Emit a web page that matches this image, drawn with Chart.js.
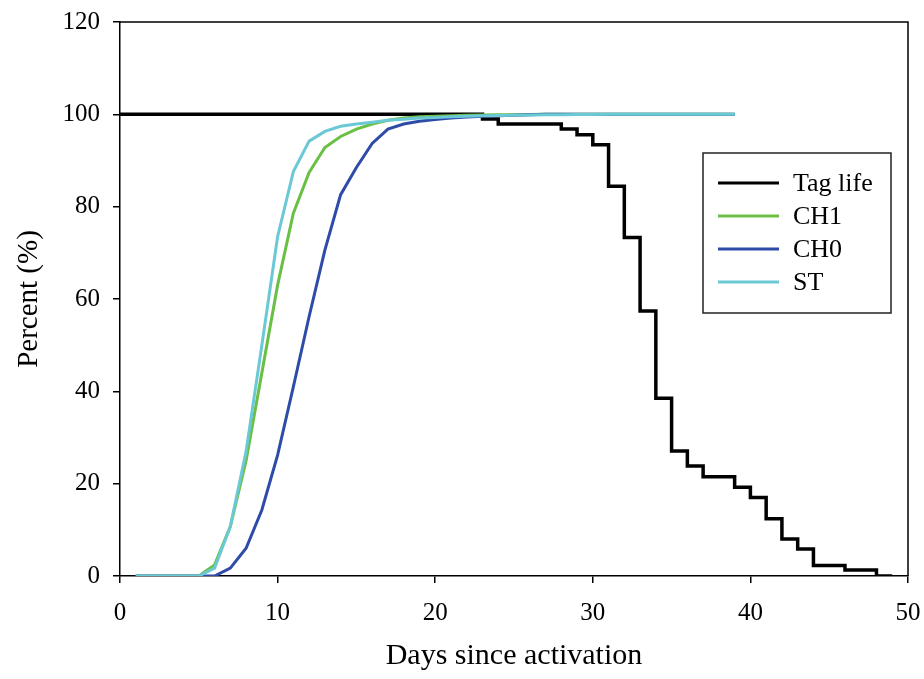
<!DOCTYPE html>
<html>
<head>
<meta charset="utf-8">
<script src="https://cdn.jsdelivr.net/npm/chart.js@4.4.1/dist/chart.umd.min.js"></script>
<style>
  html, body { margin: 0; padding: 0; background: #fff; }
  #wrap { width: 924px; height: 679px; position: relative; }
</style>
</head>
<body>
<div id="wrap"><canvas id="c" width="924" height="679"></canvas></div>
<script>
// ---- Data ----
const days = [1,2,3,4,5,6,7,8,9,10,11,12,13,14,15,16,17,18,19,20,21,22,23,24,25,26,27,28,29,30,31,32,33,34,35,36,37,38,39];
const ch1 = [0,0,0,0,0,2.4,10.7,25,44,63,78.6,87.4,92.8,95.2,96.8,97.9,98.7,99.2,99.5,99.6,99.7,99.8,99.85,99.9,99.9,99.95,100,100,100,100,100,100,100,100,100,100,100,100,100];
const ch0 = [0,0,0,0,0,0,1.7,6,14.3,26.2,41,56.2,70.6,82.6,88.5,93.7,96.8,97.9,98.5,98.9,99.2,99.4,99.6,99.7,99.8,99.9,100,100,100,100,100,100,100,100,100,100,100,100,100];
const st  = [0,0,0,0,0,1.7,10.7,27,50,73.5,87.6,94.2,96.3,97.4,97.9,98.3,98.7,98.95,99.2,99.3,99.5,99.6,99.7,99.75,99.8,99.85,99.9,99.9,99.95,99.95,100,100,100,100,100,100,100,100,100];
// Tag life step function: the first value holds until day 23, then each listed value is reached at its day
const tagDays = [0,23,24,28,29,30,31,32,33,34,35,36,37,39,40,41,42,43,44,46,48,49];
const tagLife = [100,99,97.9,96.8,95.6,93.4,84.4,73.3,57.4,38.5,27.1,23.8,21.5,19.2,17.0,12.4,8.0,5.85,2.3,1.3,0,0];
const seriesNames = ['Tag life','CH1','CH0','ST'];
const seriesColors = ['#000000','#6abf45','#2e4ba8','#6bc9d6'];
const xTicks = [0,10,20,30,40,50];
const yTicks = [0,20,40,60,80,100,120];

const FONT = "'Liberation Serif', 'Times New Roman', serif";

function pts(xs, ys){ return xs.map((x,i)=>({x:x, y:ys[i]})); }

const frameAndLegend = {
  id: 'frameAndLegend',
  afterDraw(chart){
    const ctx = chart.ctx, a = chart.chartArea;
    ctx.save();
    ctx.strokeStyle = '#000';
    ctx.lineWidth = 1.5;
    ctx.beginPath();
    ctx.moveTo(a.left, a.top); ctx.lineTo(a.right, a.top); ctx.lineTo(a.right, a.bottom);
    ctx.stroke();
    // legend box
    const bx = 703, by = 153, bw = 188, bh = 160;
    ctx.fillStyle = '#fff';
    ctx.fillRect(bx, by, bw, bh);
    ctx.lineWidth = 1.5;
    ctx.strokeStyle = '#222';
    ctx.strokeRect(bx, by, bw, bh);
    ctx.font = '26px ' + FONT;
    ctx.textBaseline = 'middle';
    ctx.textAlign = 'left';
    for (let i = 0; i < seriesNames.length; i++){
      const y = 183 + i * 33;
      ctx.strokeStyle = seriesColors[i];
      ctx.lineWidth = 3;
      ctx.beginPath(); ctx.moveTo(718, y); ctx.lineTo(779, y); ctx.stroke();
      ctx.fillStyle = '#000';
      ctx.fillText(seriesNames[i], 793, y + 1);
    }
    ctx.restore();
  }
};

new Chart(document.getElementById('c'), {
  type: 'line',
  data: {
    datasets: [
      { label: seriesNames[0], data: pts(tagDays, tagLife), borderColor: seriesColors[0], borderWidth: 3.5, stepped: 'before', pointRadius: 0, order: 4, borderJoinStyle: 'miter' },
      { label: seriesNames[1], data: pts(days, ch1), borderColor: seriesColors[1], borderWidth: 3, pointRadius: 0, tension: 0, order: 3 },
      { label: seriesNames[2], data: pts(days, ch0), borderColor: seriesColors[2], borderWidth: 3, pointRadius: 0, tension: 0, order: 2 },
      { label: seriesNames[3], data: pts(days, st), borderColor: seriesColors[3], borderWidth: 3, pointRadius: 0, tension: 0, order: 1 }
    ]
  },
  options: {
    responsive: false,
    animation: false,
    layout: { padding: { top: 22, right: 16, left: 0, bottom: 0 } },
    plugins: { legend: { display: false }, tooltip: { enabled: false }, title: { display: false } },
    scales: {
      x: {
        type: 'linear', min: 0, max: 50,
        afterBuildTicks(s){ s.ticks = xTicks.map(v=>({value:v})); },
        afterFit(s){ s.height = 103; s.paddingLeft = 0; s.paddingRight = 0; },
        ticks: { color: '#000', font: { family: FONT, size: 25 }, padding: 15, maxRotation: 0 },
        grid: { drawOnChartArea: false, drawTicks: true, tickLength: 7, color: '#000', lineWidth: 1.5 },
        border: { display: true, color: '#000', width: 1.5 },
        title: { display: true, text: 'Days since activation', color: '#000', font: { family: FONT, size: 30 }, padding: { top: 0, bottom: 5 } }
      },
      y: {
        type: 'linear', min: 0, max: 120,
        afterBuildTicks(s){ s.ticks = yTicks.map(v=>({value:v})); },
        afterFit(s){ s.width = 120; s.paddingTop = 0; s.paddingBottom = 0; },
        ticks: { color: '#000', font: { family: FONT, size: 25 }, padding: 13 },
        grid: { drawOnChartArea: false, drawTicks: true, tickLength: 7, color: '#000', lineWidth: 1.5 },
        border: { display: true, color: '#000', width: 1.5 },
        title: { display: true, text: 'Percent (%)', color: '#000', font: { family: FONT, size: 29 }, padding: { top: 12, bottom: 0 } }
      }
    }
  },
  plugins: [frameAndLegend]
});
</script>
</body>
</html>
